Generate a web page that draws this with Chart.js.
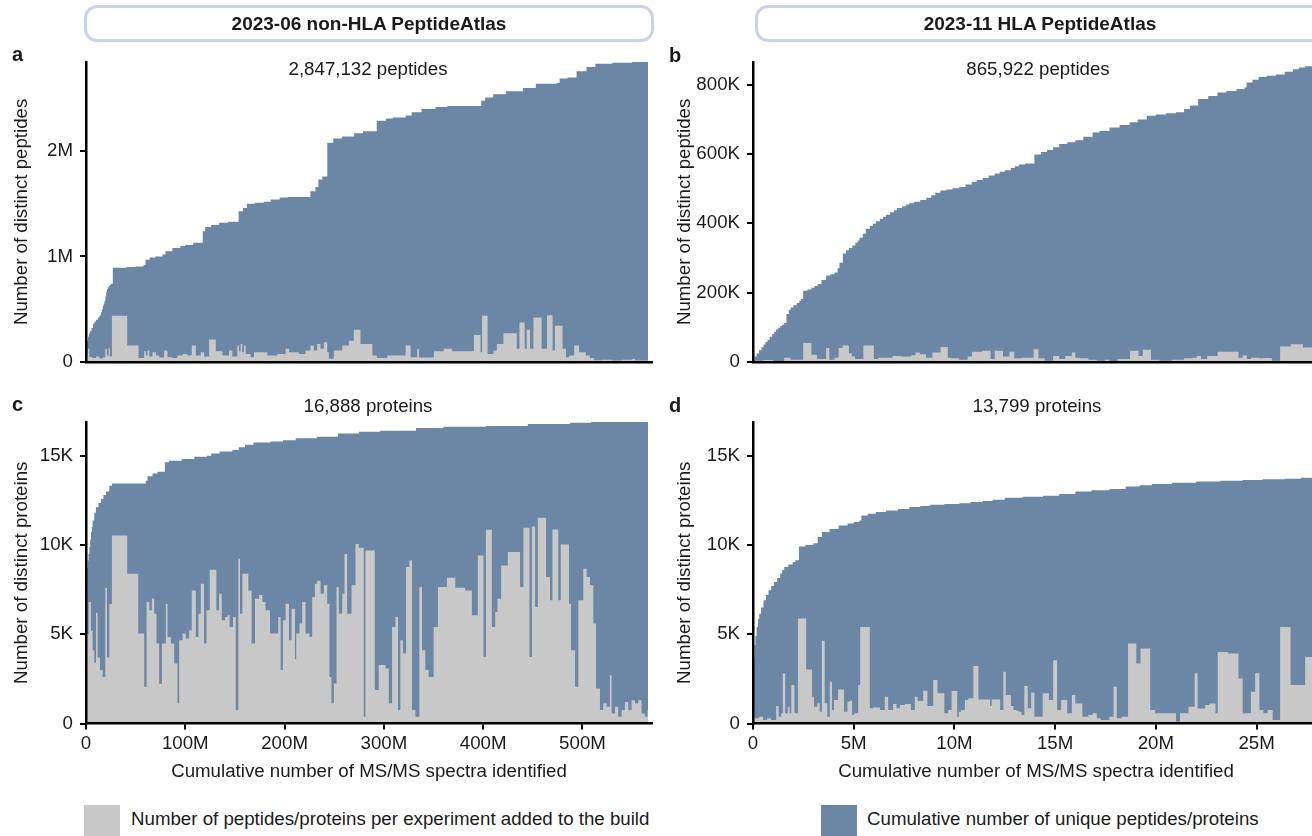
<!DOCTYPE html>
<html><head><meta charset="utf-8">
<script src="https://cdn.jsdelivr.net/npm/chart.js@4.4.1/dist/chart.umd.min.js"></script>
<style>
html,body{margin:0;padding:0;width:1312px;height:836px;overflow:hidden;background:#fff;font-family:"Liberation Sans",Arial,Helvetica,sans-serif;color:#1a1a1a;}
canvas{position:absolute;}
.hdr{position:absolute;top:5px;height:31px;width:564px;border:3px solid #c9d4e5;border-radius:13px;font-weight:bold;font-size:19px;display:flex;align-items:center;justify-content:center;background:transparent;}
.lt{position:absolute;font-weight:bold;font-size:20px;line-height:1;}
.ann{position:absolute;font-size:18.7px;line-height:1;white-space:nowrap;transform:translateX(-50%);}
.sw{position:absolute;top:805px;width:36px;height:34px;}
.lg{position:absolute;top:810px;font-size:18.7px;line-height:1;white-space:nowrap;}
</style></head>
<body>
<canvas id="pa" width="660" height="380" style="left:0;top:0"></canvas>
<canvas id="pb" width="660" height="380" style="left:660px;top:0"></canvas>
<canvas id="pc" width="660" height="420" style="left:0;top:380px"></canvas>
<canvas id="pd" width="660" height="420" style="left:660px;top:380px"></canvas>

<div class="hdr" style="left:84px">2023-06 non-HLA PeptideAtlas</div>
<div class="hdr" style="left:755px">2023-11 HLA PeptideAtlas</div>
<div class="lt" style="left:12px;top:44px">a</div>
<div class="lt" style="left:669px;top:45px">b</div>
<div class="lt" style="left:12px;top:394px">c</div>
<div class="lt" style="left:669px;top:395px">d</div>
<div class="ann" style="left:368px;top:60px">2,847,132 peptides</div>
<div class="ann" style="left:1038px;top:60px">865,922 peptides</div>
<div class="ann" style="left:368px;top:397px">16,888 proteins</div>
<div class="ann" style="left:1037px;top:397px">13,799 proteins</div>
<div class="sw" style="left:84px;background:#c8c8c8"></div>
<div class="lg" style="left:131px">Number of peptides/proteins per experiment added to the build</div>
<div class="sw" style="left:821px;background:#6b87a5"></div>
<div class="lg" style="left:867px">Cumulative number of unique peptides/proteins</div>

<script>
// ---------- colours ----------
const BLUE = '#6b87a5';
const GRAY = '#c8c8c8';
const INK = '#1a1a1a';
const FONT = "'Liberation Sans', Arial, Helvetica, sans-serif";

// ---------- tick values / labels ----------
const acXTickVals = [0, 100, 200, 300, 400, 500];              // millions of spectra
const acXTickLabels = ['0', '100M', '200M', '300M', '400M', '500M'];
const bdXTickVals = [0, 5, 10, 15, 20, 25];
const bdXTickLabels = ['0', '5M', '10M', '15M', '20M', '25M'];
const aYTickVals = [0, 1, 2];                                   // millions of peptides
const aYTickLabels = ['0', '1M', '2M'];
const bYTickVals = [0, 200, 400, 600, 800];                     // thousands of peptides
const bYTickLabels = ['0', '200K', '400K', '600K', '800K'];
const cdYTickVals = [0, 5, 10, 15];                             // thousands of proteins
const cdYTickLabels = ['0', '5K', '10K', '15K'];

// ---------- panel a: non-HLA peptides (x: M spectra, y: M peptides) ----------
const aEnd = 566;
const aCumX = [0, 0.5, 1, 2, 3, 4, 5.5, 7, 8.5, 10, 12, 13.5, 15, 16, 17, 17.7, 18.6, 19.5, 20.3, 21, 22, 23, 24, 25, 27, 41, 50, 58, 60, 64, 70, 77, 80, 87, 95, 100, 108, 117.6, 120, 126, 134, 143, 153.7, 158, 162, 170, 179, 186, 195, 203, 226, 231, 234, 238, 243, 249, 258, 270, 279, 292.8, 302, 309, 322, 328, 338, 352, 364, 398, 402, 410, 423, 440, 453, 474, 477, 485, 494, 504, 513, 530, 550];
const aCumY = [0.1, 0.17, 0.2, 0.24, 0.27, 0.29, 0.32, 0.36, 0.38, 0.40, 0.42, 0.44, 0.47, 0.5, 0.53, 0.55, 0.58, 0.62, 0.66, 0.69, 0.705, 0.72, 0.73, 0.74, 0.893, 0.90, 0.905, 0.92, 0.97, 0.99, 1.0, 1.02, 1.05, 1.08, 1.10, 1.11, 1.13, 1.24, 1.28, 1.30, 1.32, 1.33, 1.43, 1.46, 1.50, 1.51, 1.52, 1.54, 1.56, 1.565, 1.62, 1.66, 1.73, 1.76, 2.08, 2.12, 2.14, 2.17, 2.19, 2.29, 2.31, 2.32, 2.34, 2.37, 2.40, 2.42, 2.43, 2.48, 2.51, 2.54, 2.57, 2.60, 2.64, 2.65, 2.69, 2.70, 2.76, 2.80, 2.83, 2.84, 2.847];
const aAddX = [0, 1.7, 3.4, 6.7, 10, 13.4, 16.8, 19.4, 21, 22.8, 24.1, 26.1, 41.5, 52.9, 58.6, 60.3, 62, 63.7, 67, 70.4, 73.7, 78.7, 82.1, 87.1, 92.1, 97.1, 102.2, 106.5, 110.6, 115.6, 119, 124, 130.7, 137.4, 144, 147.4, 152.4, 154.1, 155.8, 157.4, 159.1, 160.8, 165.8, 169.2, 182.6, 192.6, 201, 204.4, 214.4, 221.1, 226.1, 229.5, 232.8, 236.2, 239.5, 242.9, 244.6, 249.6, 258, 264.7, 269.7, 276.4, 283.4, 288.4, 292.8, 303.5, 321.9, 326.9, 333.6, 335.3, 350.3, 360.3, 368.7, 390.6, 397.3, 398.9, 404.4, 410.4, 413.7, 420.4, 433.8, 436.5, 441.8, 443.8, 447.2, 450.6, 458.9, 464.3, 469.9, 472.2, 479.9, 483.3, 486.6, 491.6, 496.6, 503.4, 507.4, 511.7, 520, 530, 540, 550, 553.1];
const aAddY = [0.06, 0.123, 0.044, 0.035, 0.05, 0.03, 0.044, 0.123, 0.06, 0.129, 0.05, 0.437, 0.154, 0.035, 0.1, 0.06, 0.107, 0.05, 0.091, 0.06, 0.04, 0.107, 0.044, 0.035, 0.06, 0.075, 0.06, 0.154, 0.06, 0.091, 0.05, 0.211, 0.1, 0.06, 0.107, 0.05, 0.154, 0.1, 0.17, 0.091, 0.154, 0.075, 0.044, 0.091, 0.06, 0.075, 0.123, 0.091, 0.075, 0.107, 0.154, 0.107, 0.17, 0.123, 0.186, 0.091, 0.028, 0.107, 0.154, 0.2, 0.305, 0.17, 0.17, 0.06, 0.035, 0.06, 0.154, 0.044, 0.123, 0.04, 0.1, 0.123, 0.1, 0.255, 0.091, 0.437, 0.075, 0.107, 0.17, 0.27, 0.123, 0.374, 0.123, 0.305, 0.123, 0.421, 0.123, 0.443, 0.107, 0.343, 0.123, 0.044, 0.06, 0.154, 0.091, 0.06, 0.035, 0.015, 0.02, 0.013, 0.02, 0.028, 0.013];

// ---------- panel b: HLA peptides (x: M spectra, y: K peptides) ----------
const bEnd = 28.06;
const bCumX = [0, 0.08, 0.18, 0.3, 0.42, 0.52, 0.62, 0.72, 0.83, 0.95, 1.05, 1.14, 1.25, 1.35, 1.45, 1.55, 1.66, 1.78, 1.87, 2.0, 2.18, 2.3, 2.38, 2.49, 2.7, 2.9, 3.05, 3.21, 3.4, 3.63, 3.85, 4.04, 4.2, 4.29, 4.46, 4.62, 4.77, 4.93, 5.08, 5.2, 5.29, 5.45, 5.6, 5.8, 5.95, 6.1, 6.3, 6.45, 6.6, 6.8, 7.0, 7.15, 7.4, 7.6, 7.76, 8.0, 8.3, 8.6, 8.85, 9.05, 9.3, 9.6, 9.9, 10.24, 10.55, 10.86, 11.1, 11.4, 11.7, 12.0, 12.25, 12.5, 12.8, 13.0, 13.2, 13.5, 13.97, 14.3, 14.6, 14.9, 15.2, 15.6, 16.0, 16.4, 16.86, 17.2, 17.7, 18.2, 18.7, 19.1, 19.55, 20.0, 20.5, 21.0, 21.4, 21.7, 22.1, 22.6, 23.06, 23.5, 24.0, 24.4, 24.5, 24.8, 25.1, 25.5, 25.96, 26.4, 26.8, 27.1, 27.4, 27.85];
const bCumY = [6, 15, 24, 33, 42, 50, 57, 64, 72, 80, 86, 93, 98, 103, 107, 112, 138, 150, 157, 163, 170, 176, 181, 205, 209, 214, 219, 225, 236, 249, 253, 258, 270, 286, 313, 322, 329, 336, 344, 350, 358, 370, 384, 392, 399, 406, 413, 419, 425, 432, 438, 444, 449, 454, 458, 462, 467, 474, 481, 488, 495, 498, 501, 505, 512, 519, 525, 531, 538, 544, 549, 553, 560, 565, 570, 573, 599, 606, 612, 620, 629, 634, 640, 650, 662, 667, 677, 684, 692, 700, 711, 714, 718, 721, 730, 740, 759, 768, 778, 782, 788, 792, 807, 815, 823, 826, 830, 838, 845, 850, 854, 866];
const bAddX = [0, 0.5, 1.0, 1.55, 1.86, 2.49, 2.9, 3.17, 3.63, 3.79, 4.04, 4.25, 4.45, 4.76, 4.9, 5.07, 5.48, 6.0, 6.21, 6.93, 7.35, 7.86, 8.07, 8.28, 8.59, 8.9, 9.31, 9.67, 9.83, 10.24, 10.66, 10.87, 11.38, 11.8, 12.0, 12.41, 12.73, 12.97, 13.35, 13.93, 14.17, 14.48, 14.9, 15.2, 15.5, 15.83, 16.0, 16.24, 16.65, 17.07, 17.48, 17.69, 18.1, 18.72, 19.14, 19.35, 19.76, 20.17, 20.8, 21.4, 21.83, 22.03, 22.24, 22.55, 23.07, 24.1, 24.31, 24.52, 24.72, 25.14, 25.34, 25.76, 26.17, 26.69, 27.3];
const bAddY = [3, 5, 2, 12, 6, 54, 20, 8, 40, 6, 12, 40, 47, 25, 15, 8, 47, 8, 12, 17, 15, 19, 27, 22, 12, 27, 43, 12, 10, 6, 15, 29, 32, 8, 32, 15, 29, 10, 12, 36, 10, 3, 17, 8, 17, 27, 12, 10, 6, 3, 6, 2, 8, 32, 17, 35, 6, 3, 6, 10, 12, 17, 8, 17, 29, 12, 19, 8, 12, 10, 11, 3, 44, 51, 41];

// ---------- panel c: non-HLA proteins (x: M spectra, y: K proteins) ----------
const cEnd = 566;
const cCumX = [0, 0.8, 1.7, 2.5, 3.4, 4.2, 5, 5.8, 6.7, 8.3, 10, 12.5, 15, 17.5, 20.1, 23.5, 26.1, 60.2, 62, 67, 72, 79.4, 83.6, 96.4, 109.1, 121.9, 126.1, 134.6, 147.4, 153.8, 160.1, 168.6, 185.6, 198.4, 211.2, 232.4, 253.7, 274.9, 296.2, 332.3, 360, 402.5, 445, 487.5, 508.8];
const cCumY = [8.2, 8.7, 9.13, 9.5, 9.88, 10.3, 10.72, 11.0, 11.37, 11.8, 12.11, 12.35, 12.58, 12.8, 13.0, 13.32, 13.45, 13.6, 13.85, 14.0, 14.1, 14.63, 14.72, 14.81, 14.94, 15.0, 15.13, 15.24, 15.32, 15.47, 15.62, 15.74, 15.8, 15.87, 15.98, 16.06, 16.25, 16.34, 16.4, 16.55, 16.62, 16.67, 16.77, 16.84, 16.888];
const cAddX = [0, 2.7, 5.0, 6.7, 8.4, 10.1, 11.7, 14.1, 16.8, 19.4, 21.1, 23.5, 26.1, 41.5, 52.6, 58.6, 61.0, 63.7, 66.3, 68.7, 71.0, 73.7, 76.4, 80.4, 82.1, 85.4, 88.8, 92.1, 93.8, 97.2, 100.5, 103.9, 106.5, 110.6, 113.2, 115.6, 118.9, 121.3, 124.6, 131.3, 134.0, 136.7, 140.0, 142.4, 144.7, 148.1, 150.8, 153.4, 155.1, 157.5, 163.5, 166.8, 170.2, 174.2, 177.6, 180.9, 185.3, 191.0, 193.6, 196.0, 198.3, 201.0, 204.4, 207.0, 210.4, 211.7, 215.0, 217.7, 221.1, 225.1, 227.8, 230.5, 232.8, 236.2, 239.5, 242.9, 245.2, 247.2, 249.6, 252.3, 254.6, 258.0, 260.3, 263.0, 267.4, 271.4, 274.7, 279.7, 281.4, 290.8, 294.8, 301.5, 304.9, 308.2, 311.6, 314.2, 316.6, 319.3, 322.3, 325.6, 328.3, 331.7, 335.7, 338.4, 341.7, 345.1, 350.1, 354.4, 363.5, 371.9, 381.9, 388.6, 394.6, 400.3, 402.7, 408.7, 412.1, 414.4, 418.1, 424.8, 437.2, 440.5, 446.6, 449.0, 452.3, 455.0, 463.3, 467.3, 469.7, 475.7, 478.1, 486.4, 488.4, 492.5, 495.8, 500.8, 504.2, 507.5, 510.9, 513.6, 517.6, 520.9, 524.3, 527.6, 529.3, 532.7, 536.0, 539.4, 542.7, 546.1, 549.4, 552.8, 556.1, 559.5, 562.8, 565.5];
const cAddY = [5.0, 6.8, 5.2, 4.1, 3.4, 6.2, 3.7, 3.0, 2.6, 7.6, 3.7, 6.7, 10.53, 8.39, 5.04, 2.06, 6.8, 6.34, 7.0, 6.15, 4.48, 2.23, 4.48, 6.71, 4.85, 4.48, 3.36, 1.13, 4.66, 5.04, 4.76, 5.22, 7.45, 4.85, 6.15, 7.83, 4.48, 6.34, 8.61, 6.34, 7.27, 5.78, 5.96, 6.06, 5.41, 5.96, 0.75, 9.23, 6.15, 8.39, 7.45, 4.48, 6.99, 7.2, 6.8, 6.34, 5.04, 5.04, 5.96, 2.99, 5.78, 6.71, 4.66, 6.43, 3.6, 5.04, 5.6, 6.8, 5.04, 4.85, 7.08, 7.83, 8.0, 7.27, 7.74, 6.71, 2.6, 1.13, 2.24, 7.64, 6.15, 7.27, 9.5, 6.15, 7.74, 10.06, 9.84, 0.38, 9.69, 1.87, 3.27, 3.08, 1.13, 5.41, 5.96, 0.75, 4.66, 3.92, 8.76, 9.13, 0.75, 0.38, 7.64, 4.1, 2.99, 2.61, 5.41, 7.64, 8.16, 7.6, 7.45, 6.06, 9.41, 3.73, 10.85, 5.41, 6.25, 6.99, 8.85, 9.6, 7.64, 10.96, 3.73, 11.03, 6.53, 11.52, 8.2, 6.9, 10.86, 6.9, 10.03, 6.71, 4.1, 2.06, 6.9, 8.67, 8.2, 7.74, 5.6, 1.96, 0.75, 1.13, 0.94, 2.7, 0.56, 0.94, 0.38, 0.75, 1.2, 0.75, 1.3, 1.13, 1.3, 0.56, 0.38, 0.75];

// ---------- panel d: HLA proteins (x: M spectra, y: K proteins) ----------
const dEnd = 28.06;
const dCumX = [0, 0.03, 0.07, 0.12, 0.18, 0.25, 0.31, 0.4, 0.52, 0.64, 0.77, 0.9, 1.04, 1.2, 1.35, 1.45, 1.55, 1.75, 1.97, 2.1, 2.28, 2.6, 3.0, 3.21, 3.42, 3.8, 4.25, 4.7, 5.0, 5.28, 5.38, 5.7, 6.1, 6.6, 7.2, 7.76, 8.3, 8.8, 9.5, 10.24, 10.8, 11.4, 11.9, 12.5, 13.4, 14.4, 15.2, 16.0, 16.8, 17.7, 18.5, 19.2, 19.8, 20.8, 22.0, 23.2, 24.3, 25.3, 26.4, 27.2, 27.8];
const dCumY = [3.0, 3.7, 4.4, 4.9, 5.4, 5.85, 6.15, 6.5, 6.9, 7.2, 7.46, 7.7, 7.92, 8.15, 8.4, 8.6, 8.76, 8.9, 9.04, 9.15, 9.92, 10.0, 10.1, 10.44, 10.72, 10.9, 11.09, 11.2, 11.28, 11.37, 11.65, 11.75, 11.84, 11.93, 12.02, 12.12, 12.18, 12.25, 12.3, 12.34, 12.4, 12.46, 12.53, 12.64, 12.7, 12.76, 12.86, 13.0, 13.06, 13.13, 13.27, 13.35, 13.42, 13.49, 13.56, 13.6, 13.64, 13.68, 13.71, 13.76, 13.799];
const dAddX = [0, 0.3, 0.5, 0.7, 0.9, 1.15, 1.27, 1.4, 1.48, 1.6, 1.73, 1.82, 1.9, 2.06, 2.23, 2.64, 2.93, 3.03, 3.19, 3.31, 3.42, 3.56, 3.69, 3.81, 3.92, 4.02, 4.22, 4.52, 4.69, 4.8, 4.92, 5.02, 5.22, 5.32, 5.8, 5.96, 6.3, 6.54, 6.71, 6.96, 7.12, 7.29, 7.54, 7.84, 8.03, 8.17, 8.45, 8.66, 8.95, 9.16, 9.5, 9.69, 9.86, 10.14, 10.22, 10.32, 10.52, 10.69, 10.94, 11.19, 11.77, 11.85, 12.27, 12.43, 12.55, 12.81, 12.93, 13.09, 13.21, 13.34, 13.47, 13.64, 13.81, 13.97, 14.38, 14.69, 14.9, 15.1, 15.3, 15.6, 15.83, 16.0, 16.35, 16.65, 16.86, 17.07, 17.27, 17.69, 17.9, 18.06, 18.31, 18.62, 19.03, 19.24, 19.72, 19.96, 21.0, 21.2, 21.62, 21.93, 22.07, 22.45, 22.65, 22.96, 23.07, 23.59, 24.1, 24.31, 24.72, 24.93, 25.14, 25.34, 25.55, 25.8, 26.17, 26.69, 27.41];
const dAddY = [0.29, 0.38, 0.2, 0.29, 0.2, 0.98, 0.38, 0.57, 2.81, 0.57, 0.94, 0.57, 2.15, 0.57, 5.88, 3.03, 1.5, 0.94, 1.13, 0.66, 4.63, 1.13, 0.38, 2.34, 0.76, 1.32, 1.91, 0.66, 1.22, 1.28, 0.48, 0.57, 2.15, 5.41, 0.85, 0.89, 0.76, 1.5, 0.76, 1.09, 0.85, 1.04, 1.09, 0.76, 1.5, 1.26, 1.84, 0.98, 2.43, 1.69, 0.57, 0.76, 1.82, 0.38, 0.66, 0.76, 1.32, 1.41, 3.22, 1.35, 0.98, 1.35, 0.76, 2.9, 1.6, 0.98, 0.76, 0.72, 0.66, 0.48, 2.1, 0.85, 1.73, 0.38, 1.69, 1.31, 3.54, 0.75, 1.31, 0.57, 1.59, 1.12, 0.38, 0.47, 0.57, 0.29, 0.19, 0.38, 2.06, 0.29, 0.38, 4.48, 3.36, 4.2, 0.75, 0.57, 0.1, 0.57, 0.94, 2.81, 0.84, 1.03, 1.12, 0.57, 4.01, 3.92, 2.52, 0.57, 1.78, 2.81, 0.75, 0.57, 0.75, 0.19, 5.4, 2.15, 3.73];

// ---------- helpers ----------
function pts(xs, ys, xEnd) {
  const p = xs.map((x, i) => ({x: x, y: ys[i]}));
  p.push({x: xEnd, y: ys[ys.length - 1]});
  return p;
}

function panel(id, g, d) {
  const font = {family: FONT, size: 18.7};
  new Chart(document.getElementById(id), {
    type: 'line',
    data: {datasets: [
      {label: 'Number of peptides/proteins per experiment added to the build', data: pts(d.addX, d.addY, d.end),
       stepped: 'before', fill: 'origin', backgroundColor: GRAY, borderColor: GRAY, borderWidth: 0, pointRadius: 0, order: 0},
      {label: 'Cumulative number of unique peptides/proteins', data: pts(d.cumX, d.cumY, d.end),
       stepped: 'before', fill: 'origin', backgroundColor: BLUE, borderColor: BLUE, borderWidth: 0, pointRadius: 0, order: 1}
    ]},
    options: {
      responsive: false, animation: false, devicePixelRatio: 1, events: [],
      layout: {padding: {left: 0, right: g.padRight, top: g.padTop, bottom: g.padBottom}},
      plugins: {legend: {display: false}, tooltip: {enabled: false}},
      scales: {
        x: {
          type: 'linear', min: 0, max: d.xMax,
          afterBuildTicks: s => { s.ticks = d.xVals.map(v => ({value: v})); },
          afterFit: s => { s.height = g.xAxisHeight; },
          ticks: {display: g.showX, autoSkip: false, maxRotation: 0, padding: 3, color: INK, font: font,
                  callback: (v, i) => d.xLabels[i]},
          grid: {display: g.showX, drawOnChartArea: false, drawTicks: true, tickLength: 6, color: '#000', lineWidth: 2},
          border: {display: true, color: '#000', width: 2.5, z: 1},
          title: {display: g.showX, text: 'Cumulative number of MS/MS spectra identified', color: INK, font: font, padding: 0}
        },
        y: {
          min: 0, max: d.yMax,
          afterBuildTicks: s => { s.ticks = d.yVals.map(v => ({value: v})); },
          afterFit: s => { s.width = g.yAxisWidth; },
          ticks: {padding: 7, color: INK, font: font, callback: (v, i) => d.yLabels[i]},
          grid: {drawOnChartArea: false, drawTicks: true, tickLength: 6, color: '#000', lineWidth: 2},
          border: {display: true, color: '#000', width: 2.5, z: 1},
          title: {display: true, text: d.yTitle, color: INK, font: font, padding: {top: g.yTitlePad, bottom: 0}}
        }
      }
    }
  });
}

panel('pa', {yAxisWidth: 86, padTop: 62, padRight: 8, padBottom: 17, xAxisHeight: 0, showX: false, yTitlePad: 10.8},
  {cumX: aCumX, cumY: aCumY, addX: aAddX, addY: aAddY, end: aEnd, xMax: 570, yMax: 2.847,
   xVals: acXTickVals, xLabels: acXTickLabels, yVals: aYTickVals, yLabels: aYTickLabels, yTitle: 'Number of distinct peptides'});
panel('pb', {yAxisWidth: 93, padTop: 62, padRight: 1, padBottom: 17, xAxisHeight: 0, showX: false, yTitlePad: 13.8},
  {cumX: bCumX, cumY: bCumY, addX: bAddX, addY: bAddY, end: bEnd, xMax: 28.1, yMax: 866,
   xVals: bdXTickVals, xLabels: bdXTickLabels, yVals: bYTickVals, yLabels: bYTickLabels, yTitle: 'Number of distinct peptides'});
panel('pc', {yAxisWidth: 86, padTop: 42, padRight: 8, padBottom: 16.5, xAxisHeight: 60, showX: true, yTitlePad: 10.8},
  {cumX: cCumX, cumY: cCumY, addX: cAddX, addY: cAddY, end: cEnd, xMax: 570, yMax: 16.888,
   xVals: acXTickVals, xLabels: acXTickLabels, yVals: cdYTickVals, yLabels: cdYTickLabels, yTitle: 'Number of distinct proteins'});
panel('pd', {yAxisWidth: 93, padTop: 42, padRight: 1, padBottom: 16.5, xAxisHeight: 60, showX: true, yTitlePad: 13.8},
  {cumX: dCumX, cumY: dCumY, addX: dAddX, addY: dAddY, end: dEnd, xMax: 28.1, yMax: 16.888,
   xVals: bdXTickVals, xLabels: bdXTickLabels, yVals: cdYTickVals, yLabels: cdYTickLabels, yTitle: 'Number of distinct proteins'});
</script>
</body></html>
